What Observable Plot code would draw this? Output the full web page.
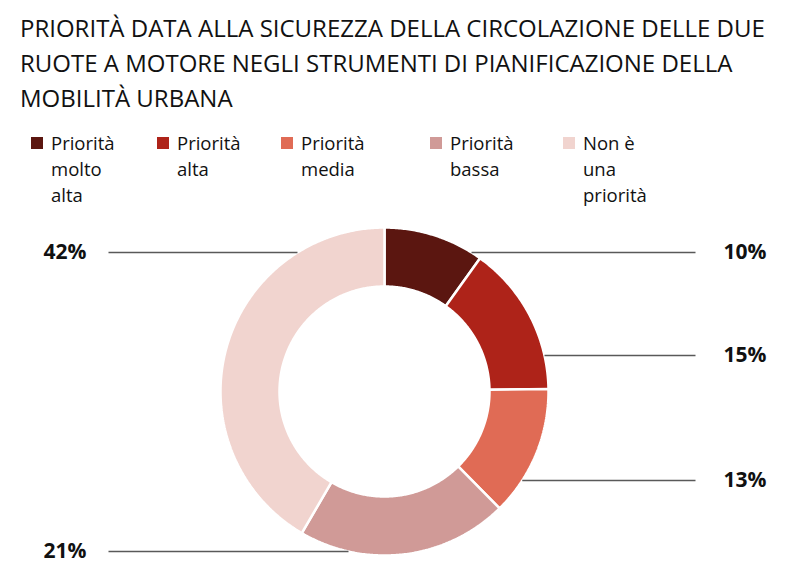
<!DOCTYPE html>
<html><head><meta charset="utf-8">
<script src="https://cdn.jsdelivr.net/npm/d3@7"></script>
<script src="https://cdn.jsdelivr.net/npm/@observablehq/plot@0.6"></script>
<style>
body{margin:0;background:#fff;font-family:"Open Sans",sans-serif;color:#111;}
#wrap{position:relative;width:800px;height:575px;overflow:hidden}
#title{position:absolute;left:20px;top:10px;font-size:24px;line-height:35px;white-space:nowrap;color:#111}
.leg{position:absolute;top:130px;font-size:18.5px;line-height:26px;color:#111}
.sw{position:absolute;left:0;top:7px;width:12px;height:12px}
.lt{margin-left:20px;width:76px}
#chart{position:absolute;left:0;top:215px}
</style></head>
<body><div id="wrap"><div id="title"></div><div id="legend"></div><div id="chart"></div></div>
<script>
// ---- data ----
const titleLines = [
  "PRIORITÀ DATA ALLA SICUREZZA DELLA CIRCOLAZIONE DELLE DUE",
  "RUOTE A MOTORE NEGLI STRUMENTI DI PIANIFICAZIONE DELLA",
  "MOBILITÀ URBANA"
];
const categories = ["Priorità molto alta", "Priorità alta", "Priorità media", "Priorità bassa", "Non è una priorità"];
const values = [10, 15, 13, 21, 42];
const colors = ["#5b1610", "#ae2319", "#e06b55", "#d09a97", "#f1d4cf"];

// ---- layout ----
const legendX = [31, 157, 281, 430, 563];
const labelSide = ["right", "right", "right", "left", "left"];
const labelY = [37, 140, 265, 336, 37];
const W = 800, H = 360, CX = 384, CY = 176, R = 164, r = 105;

document.getElementById("title").innerHTML = titleLines.join("<br>");
const leg = document.getElementById("legend");
categories.forEach((c, i) => {
  const d = document.createElement("div");
  d.className = "leg";
  d.style.left = legendX[i] + "px";
  d.innerHTML = `<div class="sw" style="background:${colors[i]}"></div><div class="lt">${c}</div>`;
  leg.appendChild(d);
});

const total = d3.sum(values);
let cum = 0;
const pts = [];
const labels = [];
categories.forEach((c, i) => {
  const a0 = cum / total * 2 * Math.PI;
  cum += values[i];
  const a1 = cum / total * 2 * Math.PI;
  const n = Math.max(2, Math.ceil((a1 - a0) / 0.01));
  const ring = [];
  for (let k = 0; k <= n; k++) ring.push([a0 + (a1 - a0) * k / n, R]);
  for (let k = n; k >= 0; k--) ring.push([a0 + (a1 - a0) * k / n, r]);
  ring.push(ring[0]);
  ring.forEach(([a, rad]) => pts.push({cat: c, x: CX + rad * Math.sin(a), y: CY - rad * Math.cos(a)}));
  const y = labelY[i];
  const dx = Math.sqrt(Math.max(0, R * R - (y - CY) * (y - CY)));
  const right = labelSide[i] === "right";
  labels.push({
    text: values[i] + "%", y, side: labelSide[i],
    x1: right ? CX + dx : 108, x2: right ? 695 : CX - dx,
    tx: right ? 723 : 86
  });
});

const chart = Plot.plot({
  width: W, height: H, margin: 0,
  style: {fontFamily: "'Open Sans', sans-serif", background: "white"},
  x: {domain: [0, W], range: [0, W], axis: null},
  y: {domain: [0, H], range: [0, H], axis: null},
  marks: [
    ...categories.map((c, i) => Plot.line(pts.filter(p => p.cat === c), {
      x: "x", y: "y", fill: colors[i], stroke: "white", strokeWidth: 2.5, strokeLinejoin: "miter"
    })),
    Plot.link(labels, {x1: "x1", x2: "x2", y1: "y", y2: "y", stroke: "#595959", strokeWidth: 1.3}),
    Plot.text(labels.filter(d => d.side === "right"), {x: "tx", y: "y", text: "text", textAnchor: "start", fontWeight: "bold", fontSize: 21, fill: "#111"}),
    Plot.text(labels.filter(d => d.side === "left"), {x: "tx", y: "y", text: "text", textAnchor: "end", fontWeight: "bold", fontSize: 21, fill: "#111"})
  ]
});
document.getElementById("chart").appendChild(chart);
</script></body></html>
